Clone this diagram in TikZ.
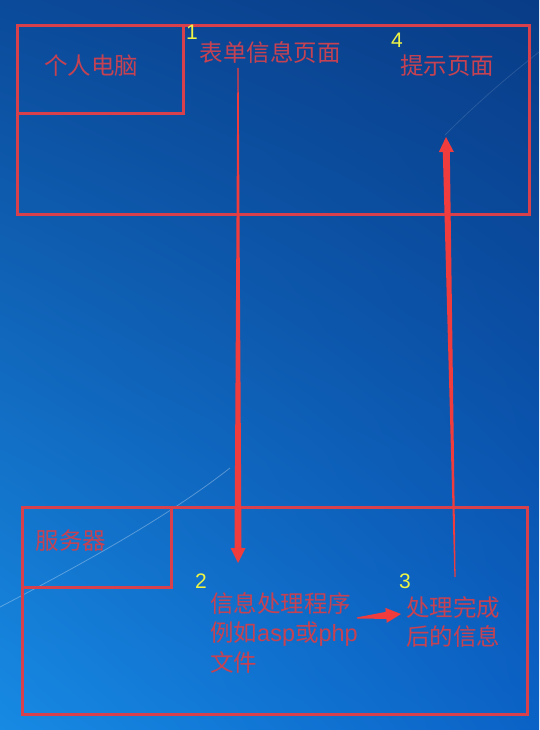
\documentclass[tikz,border=0pt]{standalone}
\usepackage{fontspec}
\usepackage{xcolor}
\usepackage{tikz}
\usetikzlibrary{calc,shadings}
\newfontfamily\cjk{Noto Sans CJK SC}
\newfontfamily\arial{Liberation Sans}
\definecolor{boxred}{HTML}{D8404C}
\definecolor{textred}{HTML}{C64252}
\definecolor{arrowred}{HTML}{F03C3C}
\definecolor{numyellow}{HTML}{EEF446}
\definecolor{bgul}{HTML}{0B4A9A}
\definecolor{bgur}{HTML}{093C86}
\definecolor{bgll}{HTML}{178AE4}
\definecolor{bglr}{HTML}{0B62C6}
\begin{document}
\begin{tikzpicture}[x=1pt,y=-1pt,
            box/.style={draw=boxred,line width=3pt,anchor=north west,inner sep=0pt},
            num/.style={text=numyellow,font=\arial\fontsize{21}{25}\selectfont,inner sep=0pt},
            taper/.style={fill=arrowred,draw=none,to path={
              ($(\tikztostart)!0.6pt!90:(\tikztotarget)$)
              -- ($($(\tikztotarget)!15pt!(\tikztostart)$)!3.5pt!90:(\tikztotarget)$)
              -- ($($(\tikztotarget)!15pt!(\tikztostart)$)!7.5pt!90:(\tikztotarget)$)
              -- (\tikztotarget)
              -- ($($(\tikztotarget)!15pt!(\tikztostart)$)!7.5pt!-90:(\tikztotarget)$)
              -- ($($(\tikztotarget)!15pt!(\tikztostart)$)!3.5pt!-90:(\tikztotarget)$)
              -- ($(\tikztostart)!0.6pt!-90:(\tikztotarget)$) -- cycle}}]
        \tikzstyle{every node}=[text=textred,font=\cjk\fontsize{23.5}{29.5}\selectfont]

        \useasboundingbox (0,0) rectangle (539,730);
        \shade[upper left=bgul,upper right=bgur,lower left=bgll,lower right=bglr]
            (0,0) rectangle (539,730);
        \draw[white,opacity=.3,line width=.8pt] (0,607) .. controls (90,560) and (170,515) .. (230,468);
        \draw[white,opacity=.12,line width=.8pt] (445,135) .. controls (480,100) and (510,75) .. (539,52);

        \node[box,minimum width=512pt,minimum height=189pt] (client) at (16,24) {};
        \node[box,minimum width=166pt,minimum height=88pt] (pcbox) at (16,24) {};
        \node[box,minimum width=505pt,minimum height=207pt] (server) at (21,506) {};
        \node[box,minimum width=149pt,minimum height=80pt] (serverbox) at (21,506) {};

        \node (pc) at (91,66) {个人电脑};
        \node (form) at (270,52) {表单信息页面};
        \node (prompt) at (447,66) {提示页面};
        \node (srv) at (71,541) {服务器};
        \node[anchor=north west,inner sep=0pt,align=left] (handler) at (210,592)
            {信息处理程序\\例如{\arial asp}或{\arial php}\\文件};
        \node[anchor=north west,inner sep=0pt,align=left] (result) at (406,596)
            {处理完成\\后的信息};

        \node[num] (n1) at (192,32) {1};
        \node[num] (n2) at (201,581) {2};
        \node[num] (n3) at (405,581) {3};
        \node[num] (n4) at (397,40) {4};

        \coordinate (s1) at (238,68);
        \coordinate (t1) at (238,563);
        \coordinate (s2) at (455,577);
        \coordinate (t2) at (446,137);
        \coordinate (s3) at (357,618);
        \coordinate (t3) at (401,614);

        \path (s1) edge[taper] (t1);
        \path (s2) edge[taper] (t2);
        \path (s3) edge[taper] (t3);
    \end{tikzpicture}
\end{document}
